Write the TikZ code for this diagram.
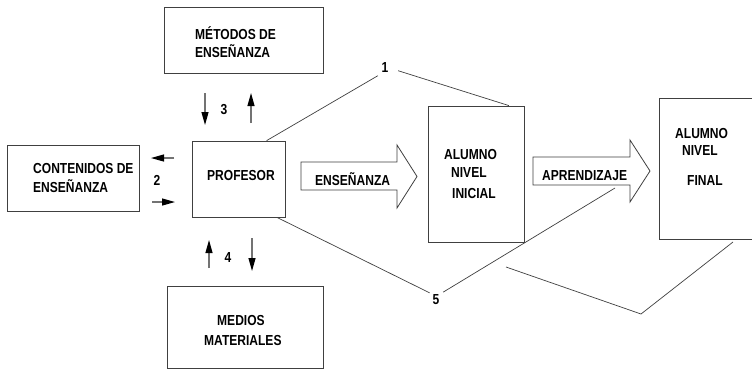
\documentclass[tikz,border=0pt]{standalone}
\usepackage{fontspec}
\setmainfont{Liberation Sans}[FakeStretch=0.83]
\usetikzlibrary{arrows.meta,calc}
\begin{document}
\begin{tikzpicture}[x=1pt,y=-1pt,
  box/.style={draw=black!75, line width=0.8pt, inner sep=0pt},
  lbl/.style={inner sep=0pt, anchor=base west, font=\fontsize{14.5}{17}\selectfont\bfseries},
  num/.style={inner sep=1pt, font=\fontsize{14.5}{17}\selectfont\bfseries},
  thinline/.style={draw=black!75, line width=0.7pt},
  blockarrow/.style={draw=black!75, line width=0.8pt, fill=white},
  smallarrow/.style={draw=black!55, line width=1.2pt, -{Triangle[length=13pt,width=7pt,color=black]}}
]
\useasboundingbox (0,0) rectangle (752,370);
\fill[white] (0,0) rectangle (752,370);

% boxes
\node[box, minimum width=159, minimum height=66] (met) at (243.5,40) {};
\node[box, minimum width=132, minimum height=66] (con) at (73,178) {};
\node[box, minimum width=93, minimum height=76] (prof) at (238.5,179) {};
\node[box, minimum width=156, minimum height=82] (med) at (245,327.5) {};
\node[box, minimum width=96, minimum height=136] (ai) at (476,174) {};
\node[box, minimum width=106, minimum height=141] (af) at (712,168.5) {};

% block arrows
\draw[blockarrow] (301,162) -- (397,162) -- (397,145) -- (417,176.5) -- (397,208) -- (397,190) -- (301,190) -- cycle;
\draw[blockarrow] (533,157) -- (630,157) -- (630,140) -- (650,171) -- (630,202) -- (630,185) -- (533,185) -- cycle;

% texts
\node[lbl] (met1) at (195,39) {MÉTODOS DE};
\node[lbl] (met2) at (195,57) {ENSEÑANZA};
\node[lbl] (con1) at (33,173) {CONTENIDOS DE};
\node[lbl] (con2) at (33,192) {ENSEÑANZA};
\node[lbl] (proft) at (207,180) {PROFESOR};
\node[lbl] (ens) at (315,185) {ENSEÑANZA};
\node[lbl] (ai1) at (444,159) {ALUMNO};
\node[lbl] (ai2) at (451,177) {NIVEL};
\node[lbl] (ai3) at (452,198) {INICIAL};
\node[lbl] (apr) at (542,180) {APRENDIZAJE};
\node[lbl] (af1) at (675,138) {ALUMNO};
\node[lbl] (af2) at (682,155) {NIVEL};
\node[lbl] (af3) at (687,185) {FINAL};
\node[lbl] (med1) at (217,325) {MEDIOS};
\node[lbl] (med2) at (204,345) {MATERIALES};

% numbers
\node[num] (n1) at (385,68) {1};
\node[num] (n2) at (157,180) {2};
\node[num] (n3) at (224,110) {3};
\node[num] (n4) at (228,258) {4};
\node[num] (n5) at (436,300) {5};

% thin lines
\draw[thinline, shorten >=3pt] ($(prof.north west)!0.8!(prof.north east)$) -- (n1.south west);
\draw[thinline, shorten <=9pt] (n1.east) -- ($(ai.north west)!0.84!(ai.north east)$);
\coordinate (c5) at (615,188);
\draw[thinline, shorten >=2pt] ($(prof.south west)!0.91!(prof.south east)$) -- (n5.north west);
\draw[thinline, shorten <=3pt] (n5.north east) -- (c5);
\coordinate (v1) at (506,267);
\coordinate (v2) at (641,314);
\coordinate (v3) at (733,242);
\draw[thinline] (v1) -- (v2) -- (v3);

% small arrows
\coordinate (a3a) at (205,93);  \coordinate (a3b) at (205,125);
\coordinate (a3c) at (251,123); \coordinate (a3d) at (251,93);
\draw[smallarrow] (a3a) -- (a3b);
\draw[smallarrow] (a3c) -- (a3d);
\coordinate (a2a) at (174,158); \coordinate (a2b) at (151,158);
\coordinate (a2c) at (152,202); \coordinate (a2d) at (175,202);
\draw[smallarrow] (a2a) -- (a2b);
\draw[smallarrow] (a2c) -- (a2d);
\coordinate (a4a) at (209,268); \coordinate (a4b) at (209,240);
\coordinate (a4c) at (252,238); \coordinate (a4d) at (252,271);
\draw[smallarrow] (a4a) -- (a4b);
\draw[smallarrow] (a4c) -- (a4d);
\end{tikzpicture}
\end{document}
